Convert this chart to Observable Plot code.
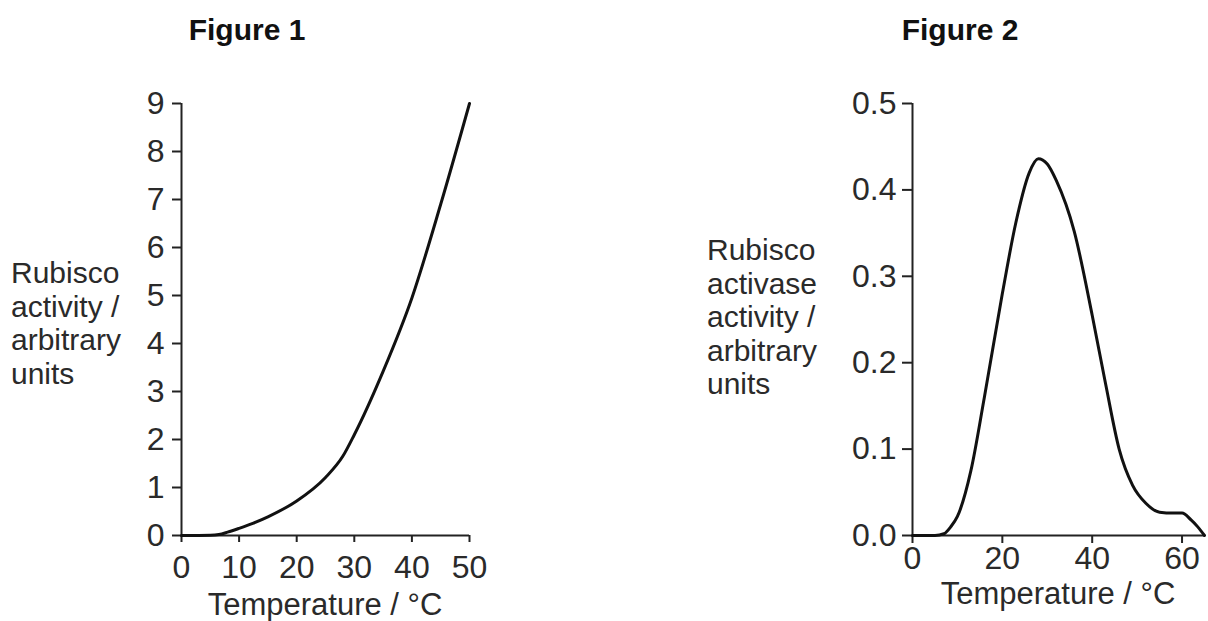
<!DOCTYPE html>
<html>
<head>
<meta charset="utf-8">
<script src="https://cdn.jsdelivr.net/npm/d3@7"></script>
<script src="https://cdn.jsdelivr.net/npm/@observablehq/plot@0.6"></script>
<style>
  html, body { margin: 0; padding: 0; background: #fff; overflow: hidden; }
  #wrap { position: relative; width: 1208px; height: 621px; font-family: "Liberation Sans", Arial, sans-serif; color: #222; }
  .title { position: absolute; font-weight: bold; font-size: 30px; line-height: 34px; text-align: center; width: 300px; color: #111; }
  .ylab { position: absolute; font-size: 30px; line-height: 33.5px; white-space: pre; color: #2a2a2a; }
  .xlab { position: absolute; font-size: 31px; line-height: 31px; text-align: center; width: 400px; color: #2a2a2a; }
  svg { position: absolute; top: 0; }
</style>
</head>
<body>
<div id="wrap"></div>
<script>
// ---- Figure 1 data: Rubisco activity vs temperature ----
const fig1Temp = [0, 3, 5, 6.5, 8, 10, 12.5, 15, 20, 25, 28, 30, 35, 40, 45, 50];
const fig1Activity = [0, 0, 0.003, 0.02, 0.07, 0.15, 0.26, 0.39, 0.72, 1.21, 1.65, 2.1, 3.42, 4.95, 6.9, 9.0];
const fig1XTicks = [0, 10, 20, 30, 40, 50];
const fig1YTicks = [0, 1, 2, 3, 4, 5, 6, 7, 8, 9];

// ---- Figure 2 data: Rubisco activase activity vs temperature ----
const fig2Temp = [0, 5, 7, 8.5, 10, 13, 16, 20, 23, 26, 28, 30, 32, 36, 40, 43, 46, 49, 52, 55, 58, 60, 62, 63.5, 65];
const fig2Activity = [0, 0, 0.002, 0.01, 0.022, 0.075, 0.16, 0.28, 0.362, 0.42, 0.436, 0.43, 0.411, 0.352, 0.255, 0.175, 0.1, 0.058, 0.037, 0.027, 0.026, 0.026, 0.018, 0.01, 0];
const fig2XTicks = [0, 20, 40, 60];
const fig2YTicks = [0, 0.1, 0.2, 0.3, 0.4, 0.5];

const titles = ["Figure 1", "Figure 2"];
const yLabels = ["Rubisco\nactivity /\narbitrary\nunits", "Rubisco\nactivase\nactivity /\narbitrary\nunits"];
const xLabel = "Temperature / °C";

const fig1Data = fig1Temp.map((t, i) => ({t, v: fig1Activity[i]}));
const fig2Data = fig2Temp.map((t, i) => ({t, v: fig2Activity[i]}));

const wrap = document.getElementById("wrap");
const axisColor = "#222";
const baseStyle = {fontFamily: "Liberation Sans, Arial, sans-serif", fontSize: "32px", color: "#2a2a2a", background: "transparent", overflow: "visible"};

const p1 = Plot.plot({
  width: 600, height: 621,
  marginLeft: 181, marginRight: 131, marginTop: 103, marginBottom: 86,
  x: {domain: [0, 50]},
  y: {domain: [0, 9]},
  style: baseStyle,
  marks: [
    Plot.axisX({ticks: fig1XTicks, tickSize: 7, tickPadding: 13, label: null, stroke: axisColor, strokeWidth: 2}),
    Plot.axisY({ticks: fig1YTicks, tickSize: 9, tickPadding: 8, label: null, stroke: axisColor, strokeWidth: 2}),
    Plot.ruleX([0], {stroke: axisColor, strokeWidth: 2}),
    Plot.ruleY([0], {stroke: axisColor, strokeWidth: 2}),
    Plot.line(fig1Data, {x: "t", y: "v", curve: "monotone-x", stroke: "#111", strokeWidth: 3})
  ]
});
p1.style.left = "0px";
wrap.appendChild(p1);

const p2 = Plot.plot({
  width: 608, height: 621,
  marginLeft: 312, marginRight: 4, marginTop: 103, marginBottom: 86,
  x: {domain: [0, 65]},
  y: {domain: [0, 0.5]},
  style: baseStyle,
  marks: [
    Plot.axisX({ticks: fig2XTicks, tickSize: 8, tickPadding: 3, label: null, stroke: axisColor, strokeWidth: 2}),
    Plot.axisY({ticks: fig2YTicks, tickFormat: d3.format(".1f"), tickSize: 10, tickPadding: 6, label: null, stroke: axisColor, strokeWidth: 2}),
    Plot.ruleX([0], {stroke: axisColor, strokeWidth: 2}),
    Plot.ruleY([0], {stroke: axisColor, strokeWidth: 2}),
    Plot.line(fig2Data, {x: "t", y: "v", curve: "monotone-x", stroke: "#111", strokeWidth: 3})
  ]
});
p2.style.left = "600px";
wrap.appendChild(p2);

function addDiv(cls, text, left, top) {
  const d = document.createElement("div");
  d.className = cls;
  d.textContent = text;
  d.style.left = left + "px";
  d.style.top = top + "px";
  wrap.appendChild(d);
}
addDiv("title", titles[0], 247 - 150, 13);
addDiv("title", titles[1], 960 - 150, 13);
addDiv("ylab", yLabels[0], 11, 256);
addDiv("ylab", yLabels[1], 707, 233);
addDiv("xlab", xLabel, 325 - 200, 589);
addDiv("xlab", xLabel, 1058 - 200, 578);
</script>
</body>
</html>
